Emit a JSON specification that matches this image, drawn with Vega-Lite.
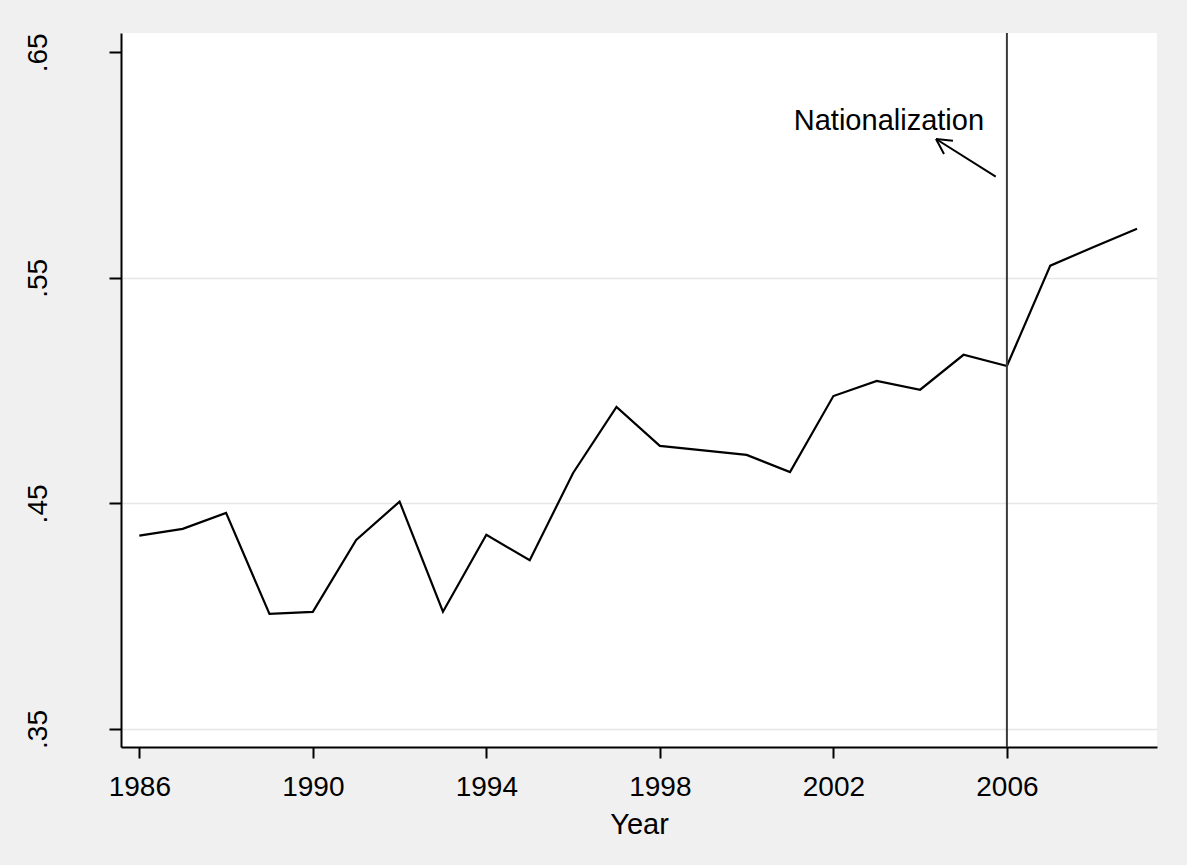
{
  "$schema": "https://vega.github.io/schema/vega-lite/v6.json",
  "width": 1036,
  "height": 714,
  "autosize": "none",
  "padding": {"left": 121, "top": 33, "right": 30, "bottom": 118},
  "background": "#f0f0f0",
  "view": {"fill": "white", "stroke": null},
  "config": {
    "font": "Liberation Sans",
    "axis": {
      "domainColor": "black", "domainWidth": 2,
      "tickColor": "black", "tickWidth": 2,
      "labelColor": "black", "labelFontSize": 28, "labelFont": "Liberation Sans",
      "titleColor": "black", "titleFontSize": 29, "titleFontWeight": "normal", "titleFont": "Liberation Sans",
      "gridColor": "#e6e6e6", "gridWidth": 1.5
    }
  },
  "datasets": {
    "series": [
      {"year": 1986, "value": 0.4357},
      {"year": 1987, "value": 0.4387},
      {"year": 1988, "value": 0.4458},
      {"year": 1989, "value": 0.4010},
      {"year": 1990, "value": 0.4019},
      {"year": 1991, "value": 0.4338},
      {"year": 1992, "value": 0.4508},
      {"year": 1993, "value": 0.4020},
      {"year": 1994, "value": 0.4361},
      {"year": 1995, "value": 0.4248},
      {"year": 1996, "value": 0.4635},
      {"year": 1997, "value": 0.4928},
      {"year": 1998, "value": 0.4755},
      {"year": 1999, "value": 0.4735},
      {"year": 2000, "value": 0.4715},
      {"year": 2001, "value": 0.4639},
      {"year": 2002, "value": 0.4976},
      {"year": 2003, "value": 0.5043},
      {"year": 2004, "value": 0.5004},
      {"year": 2005, "value": 0.5159},
      {"year": 2006, "value": 0.5109},
      {"year": 2007, "value": 0.5554},
      {"year": 2008, "value": 0.5637},
      {"year": 2009, "value": 0.5718}
    ],
    "event": [{"year": 2006, "label": "Nationalization", "labelYear": 2003.28, "labelValue": 0.6155}],
    "arrow": [
      {"year": 2005.742, "value": 0.59485, "year2": 2004.366, "value2": 0.61156},
      {"year": 2004.366, "value": 0.61156, "year2": 2004.757, "value2": 0.61081},
      {"year": 2004.366, "value": 0.61156, "year2": 2004.550, "value2": 0.60491}
    ]
  },
  "layer": [
    {
      "data": {"name": "series"},
      "mark": {"type": "line", "color": "black", "strokeWidth": 2.2},
      "encoding": {
        "x": {
          "field": "year", "type": "quantitative",
          "scale": {"domain": [1985.578, 2009.46], "nice": false, "zero": false},
          "axis": {
            "title": "Year", "values": [1986, 1990, 1994, 1998, 2002, 2006], "format": "d",
            "grid": false, "tickSize": 11, "labelPadding": 15, "titlePadding": 9, "labelFlush": false
          }
        },
        "y": {
          "field": "value", "type": "quantitative",
          "scale": {"domain": [0.342, 0.65856], "nice": false, "zero": false},
          "axis": {
            "title": null, "values": [0.35, 0.45, 0.55, 0.65],
            "labelExpr": "substring(format(datum.value, '.2f'), 1)",
            "labelAngle": -90, "labelAlign": "center", "labelBaseline": "alphabetic",
            "tickSize": 12, "labelPadding": 63, "labelFlush": false,
            "grid": true,
            "gridOpacity": {"condition": {"test": "datum.value > 0.6", "value": 0}, "value": 1}
          }
        }
      }
    },
    {
      "data": {"name": "event"},
      "mark": {"type": "rule", "color": "#3a3a3a", "strokeWidth": 2},
      "encoding": {"x": {"field": "year", "type": "quantitative"}}
    },
    {
      "data": {"name": "arrow"},
      "mark": {"type": "rule", "color": "black", "strokeWidth": 2},
      "encoding": {
        "x": {"field": "year", "type": "quantitative"},
        "y": {"field": "value", "type": "quantitative"},
        "x2": {"field": "year2"},
        "y2": {"field": "value2"}
      }
    },
    {
      "data": {"name": "event"},
      "mark": {"type": "text", "font": "Liberation Sans", "fontSize": 29, "color": "black", "align": "center", "baseline": "alphabetic"},
      "encoding": {
        "x": {"field": "labelYear", "type": "quantitative"},
        "y": {"field": "labelValue", "type": "quantitative"},
        "text": {"field": "label"}
      }
    }
  ]
}
